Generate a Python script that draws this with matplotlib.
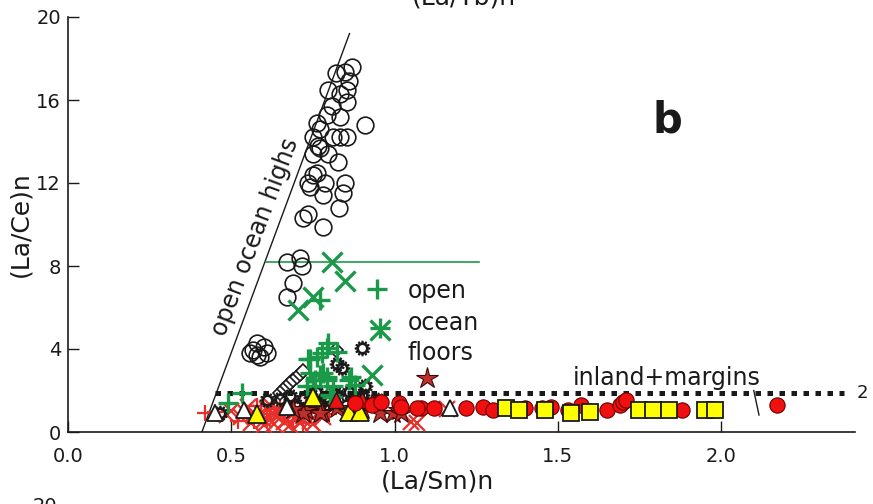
import matplotlib
matplotlib.use("Agg")
import matplotlib.pyplot as plt

# ---------------- data ----------------
# open ocean highs (black open circles)
highs_x = [0.869, 0.822, 0.847, 0.862, 0.796, 0.832, 0.853, 0.853, 0.807, 0.908, 0.832, 0.792,
           0.761, 0.771, 0.749, 0.810, 0.853, 0.832, 0.765, 0.771, 0.796, 0.749, 0.826, 0.761,
           0.749, 0.734, 0.740, 0.786, 0.847, 0.841, 0.780, 0.829, 0.719, 0.734, 0.780,
           0.670, 0.710, 0.716, 0.690, 0.670, 0.578, 0.557, 0.587, 0.610, 0.566, 0.580, 0.600]
highs_y = [17.6, 17.3, 17.35, 16.9, 16.5, 16.3, 16.5, 15.9, 15.7, 14.8, 15.2, 15.3,
           14.9, 14.6, 14.2, 14.2, 14.2, 14.2, 13.8, 13.7, 13.4, 13.4, 13.0, 12.5,
           12.4, 12.0, 11.8, 12.0, 12.0, 11.5, 11.4, 10.8, 10.3, 10.5, 9.9,
           8.2, 8.4, 8.0, 7.2, 6.5, 4.3, 3.8, 3.6, 3.8, 3.95, 3.7, 4.1]

# green X markers
gx_x = [0.807, 0.847, 0.749, 0.703, 0.954, 0.930]
gx_y = [8.2, 7.3, 6.5, 5.9, 4.9, 2.75]

# green plus markers
gp_x = [0.945, 0.771, 0.954, 0.795, 0.777, 0.734, 0.792, 0.761, 0.740, 0.823, 0.780, 0.755,
        0.792, 0.862, 0.731, 0.801, 0.532, 0.489, 0.740, 0.771, 0.792, 0.749, 0.810, 0.868,
        0.878, 0.807]
gp_y = [6.9, 6.35, 5.0, 4.3, 3.8, 3.5, 4.05, 3.6, 3.5, 3.85, 2.85, 2.5,
        2.5, 2.5, 2.2, 1.8, 1.9, 1.4, 2.85, 2.75, 2.65, 2.2, 2.2, 2.65,
        2.25, 1.7]

# black open "sun" symbols
sun_x = [0.900, 0.823, 0.908, 0.610, 0.465, 0.840, 0.720, 0.770, 0.800, 0.850, 0.880, 0.920,
         0.700, 0.950, 0.680, 0.740, 0.760, 0.820, 0.860, 0.900, 0.790, 0.650]
sun_y = [4.05, 3.3, 2.2, 1.55, 0.9, 3.1, 1.6, 1.35, 1.55, 1.3, 1.6, 1.35,
         1.25, 1.55, 1.75, 1.85, 1.95, 1.85, 1.95, 1.8, 1.7, 1.6]

# black open diamonds
dia_x = [0.650, 0.660, 0.670, 0.680, 0.690, 0.700, 0.710, 0.720, 0.820]
dia_y = [1.90, 2.05, 2.20, 2.35, 2.50, 2.65, 2.80, 2.95, 3.95]

# black open triangles
tri_x = [0.450, 0.540, 0.670, 1.170]
tri_y = [0.90, 1.05, 1.20, 1.15]

# red triangles
rtri_x = [0.670, 0.820, 0.900, 0.930]
rtri_y = [1.30, 1.55, 1.55, 1.45]

# yellow triangles
ytri_x = [0.578, 0.862, 0.893, 0.749]
ytri_y = [0.85, 0.95, 0.95, 1.70]

# red stars
star_x = [0.730, 0.777, 0.823, 0.954, 1.015, 0.720, 0.771, 0.860, 0.995, 1.020, 0.690, 0.900, 1.100]
star_y = [1.05, 0.95, 1.15, 0.90, 1.05, 0.90, 0.90, 0.95, 0.90, 0.90, 1.10, 1.10, 2.60]

# red thin crosses
redx_x = [0.486, 0.530, 0.570, 0.600, 0.640, 0.670, 0.700, 0.720, 0.780, 0.550, 0.620, 0.690,
          0.770, 1.050, 1.160, 1.070, 0.500, 0.560, 0.590, 0.610, 0.630, 0.650, 0.660, 0.680,
          0.710, 0.740, 0.750, 0.540, 0.600, 0.640, 0.700]
redx_y = [0.80, 0.70, 0.75, 0.60, 0.70, 0.60, 0.80, 0.65, 0.70, 1.20, 1.30, 1.30,
          1.25, 0.50, 1.10, 0.45, 1.00, 0.45, 0.90, 1.10, 0.40, 0.95, 0.50, 0.35,
          0.45, 0.55, 0.40, 1.00, 0.35, 1.00, 1.05]
redp_x = [0.420, 0.450, 0.550, 0.590, 0.620, 0.630, 0.660, 0.680, 0.710, 0.740, 0.760, 0.800,
          0.580, 0.650, 0.730, 0.520, 0.570, 0.610, 0.690, 0.720]
redp_y = [0.90, 0.95, 0.90, 1.00, 0.85, 1.10, 0.95, 1.05, 1.15, 0.90, 1.00, 0.85,
          1.25, 1.20, 1.20, 0.55, 0.55, 0.65, 0.55, 0.45]

# red circles
rc_x = [0.930, 1.015, 1.020, 1.080, 1.120, 1.220, 1.270, 1.300, 1.450, 1.480, 1.530, 1.570,
        1.650, 1.690, 1.700, 1.710, 1.880, 2.170, 0.880, 0.960, 1.400, 1.070]
rc_y = [1.30, 1.40, 1.20, 1.15, 1.15, 1.15, 1.20, 1.05, 1.15, 1.20, 1.05, 1.30,
        1.05, 1.30, 1.45, 1.55, 1.05, 1.30, 1.40, 1.45, 1.15, 1.15]

# yellow squares
sq_x = [1.34, 1.38, 1.46, 1.54, 1.60, 1.75, 1.79, 1.84, 1.95, 1.98]
sq_y = [1.15, 1.05, 1.05, 0.90, 0.95, 1.05, 1.05, 1.05, 1.05, 1.05]

# guide lines
highs_line_x = [0.41, 0.862]
highs_line_y = [0.0, 19.2]
green_line_x = [0.605, 1.26]
green_line_y = [8.2, 8.2]
dotted_x = [0.45, 2.376]
dotted_y = [1.9, 1.9]
small_seg_x = [2.100, 2.116]
small_seg_y = [2.00, 0.82]

x_ticks = [0.0, 0.5, 1.0, 1.5, 2.0]
y_ticks = [0, 4, 8, 12, 16, 20]

# ---------------- colours ----------------
GREEN = "#1a9a48"
RED = "#f01010"
RED_EDGE = "#6a0000"
STAR_RED = "#c0302a"
XRED = "#e8302b"
YEL = "#ffff00"
BLK = "#1a1a1a"

plt.rcParams["font.family"] = ["DejaVu Sans"]

fig = plt.figure(figsize=(8.73, 5.04), dpi=100)
ax = fig.add_axes([68 / 873, 72 / 504, 787 / 873, 415 / 504])
ax.set_xlim(0, 2.41)
ax.set_ylim(0, 20)

# lines
ax.plot(highs_line_x, highs_line_y, color=BLK, lw=1.0, zorder=2)
ax.plot(green_line_x, green_line_y, color=GREEN, lw=1.2, zorder=2)
ax.plot(dotted_x, dotted_y, color=BLK, lw=3.6, dashes=(1.1, 1.3), solid_capstyle="butt",
        dash_capstyle="butt", zorder=3)
ax.plot(small_seg_x, small_seg_y, color=BLK, lw=1.0, zorder=2)

# markers
ax.plot(redx_x, redx_y, ls="none", marker="x", ms=11, mew=1.6, color=XRED, zorder=3)
ax.plot(redp_x, redp_y, ls="none", marker="+", ms=12, mew=1.6, color=XRED, zorder=3)
ax.plot(highs_x, highs_y, ls="none", marker="o", ms=12, mfc="none", mec=BLK, mew=1.2, zorder=4)
ax.plot(dia_x, dia_y, ls="none", marker="D", ms=7, mfc="white", mec=BLK, mew=1.2, zorder=4)
ax.plot(sun_x, sun_y, ls="none", marker=(12, 1, 0), ms=11, mfc="none", mec=BLK, mew=1.3, zorder=5)
ax.plot(star_x, star_y, ls="none", marker="*", ms=16, mfc=STAR_RED, mec="#3a0a0a", mew=0.8, zorder=5)
ax.plot(gp_x, gp_y, ls="none", marker="+", ms=15, mew=2.4, color=GREEN, zorder=6)
ax.plot(gx_x, gx_y, ls="none", marker="x", ms=14, mew=2.4, color=GREEN, zorder=6)
ax.plot(rtri_x, rtri_y, ls="none", marker="^", ms=11, mfc=RED, mec=BLK, mew=1.0, zorder=6)
ax.plot(tri_x, tri_y, ls="none", marker="^", ms=12, mfc="white", mec=BLK, mew=1.3, zorder=6)
ax.plot(ytri_x, ytri_y, ls="none", marker="^", ms=13, mfc=YEL, mec=BLK, mew=1.3, zorder=7)
ax.plot(rc_x, rc_y, ls="none", marker="o", ms=11, mfc=RED, mec=RED_EDGE, mew=0.8, zorder=7)
ax.plot(sq_x, sq_y, ls="none", marker="s", ms=11, mfc=YEL, mec=BLK, mew=1.3, zorder=8)

# axes styling
for s in ("top", "right"):
    ax.spines[s].set_visible(False)
for s in ("left", "bottom"):
    ax.spines[s].set_linewidth(1.2)
    ax.spines[s].set_color(BLK)
ax.set_xticks(x_ticks)
ax.set_xticklabels([f"{v:.1f}" for v in x_ticks])
ax.set_yticks(y_ticks)
ax.set_yticklabels([str(v) for v in y_ticks])
ax.tick_params(axis="both", direction="in", length=8, width=1.0, colors=BLK, labelsize=14)
ax.tick_params(axis="x", pad=11)
ax.tick_params(axis="y", pad=5)

ax.set_xlabel("(La/Sm)n", fontsize=18, color=BLK, va="center")
ax.xaxis.set_label_coords(0.47, -0.12)
ax.set_ylabel("(La/Ce)n", fontsize=18, color=BLK, va="center")
ax.yaxis.set_label_coords(-0.061, 0.5)

# annotations
ax.text(0.575, 9.4, "open ocean highs", rotation=69.5, ha="center", va="center",
        fontsize=17, color=BLK, rotation_mode="anchor")
ax.text(1.04, 6.46, "open", fontsize=17, color=BLK, va="baseline", ha="left")
ax.text(1.04, 4.92, "ocean", fontsize=17, color=BLK, va="baseline", ha="left")
ax.text(1.04, 3.47, "floors", fontsize=17, color=BLK, va="baseline", ha="left")
ax.text(1.545, 2.27, "inland+margins", fontsize=17, color=BLK, va="baseline", ha="left")
ax.text(2.416, 1.9, "2", fontsize=13, color=BLK, va="center", ha="left", clip_on=False)
ax.text(1.835, 15.0, "b", fontsize=30, fontweight="bold", color=BLK, ha="center", va="center")

# partial texts from neighbouring panels (cut by the figure edge, as in the reference)
fig.text(464 / 873, 1 - 4 / 504, "(La/Yb)n", fontsize=18, color=BLK, ha="center", va="baseline")
fig.text(45 / 873, 7 / 504, "20", fontsize=14, color=BLK, ha="center", va="top")

fig.savefig("out.png", dpi=100)
